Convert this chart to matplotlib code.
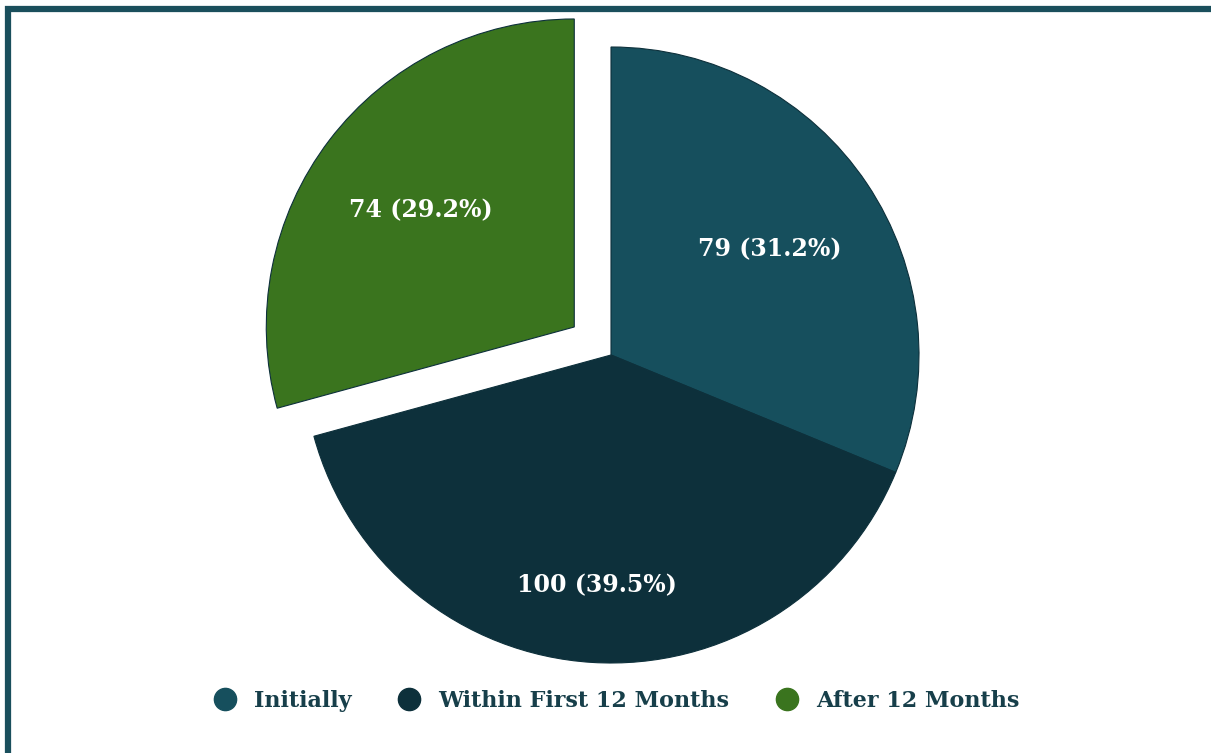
import matplotlib.pyplot as plt
from matplotlib.lines import Line2D
from matplotlib.patches import Rectangle

labels = ["Initially", "Within First 12 Months", "After 12 Months"]
counts = [79, 100, 74]
colors = ["#164f5d", "#0d303b", "#3a741e"]
explode = [0, 0, 0.15]
label_radius = [0.62, 0.75, 0.62]

plt.rcParams['font.family'] = ['DejaVu Serif']

fig = plt.figure(figsize=(12.11, 7.53), dpi=100)
W, H = 1211, 753
cx, cy, r = 611, 753 - 355, 308
half = 1.25 * r
ax = fig.add_axes([(cx - half) / W, (cy - half) / H, 2 * half / W, 2 * half / H])

total = sum(counts)
wedges, texts, autotexts = ax.pie(
    counts, colors=colors, explode=explode, startangle=90, counterclock=False,
    autopct=lambda p: f"{round(p * total / 100)} ({p:.1f}%)",
    pctdistance=0.6,
    wedgeprops=dict(edgecolor="#0d303b", linewidth=0.8),
    textprops=dict(color="white", fontsize=17, fontweight="semibold"),
)
# move the numbers out to where the reference shows them
for t, k in zip(autotexts, label_radius):
    x, y = t.get_position()
    t.set_position((x * k / 0.6, y * k / 0.6))
ax.set_xlim(-1.25, 1.25)
ax.set_ylim(-1.25, 1.25)
ax.set_aspect("equal")

handles = [Line2D([], [], marker="o", linestyle="none", markersize=16,
                  markerfacecolor=c, markeredgecolor=c) for c in colors]
fig.legend(handles, labels, loc="center", bbox_to_anchor=(611 / W, 1 - 701 / H),
           ncol=3, frameon=False, handletextpad=0.3, columnspacing=1.6,
           prop=dict(weight="bold", size=16), labelcolor="#173f4a")

# frame around the chart (right and bottom run off the image)
fig.add_artist(Rectangle((8 / W, -0.1), 1.2, 1.1 - 9 / H, transform=fig.transFigure,
                         fill=False, edgecolor="#1a4f5c", linewidth=4.5))

fig.savefig("out.png", dpi=100)
